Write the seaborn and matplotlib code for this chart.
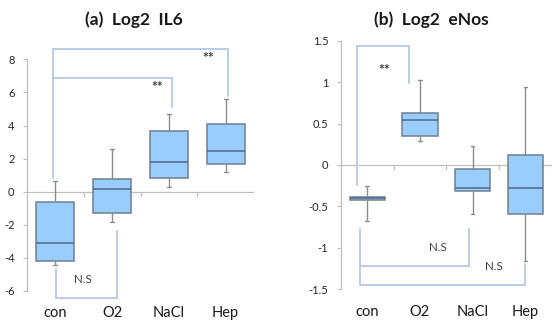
import numpy as np
import pandas as pd
import matplotlib
matplotlib.use("Agg")
import matplotlib.pyplot as plt
import seaborn as sns

# ---------------- data ----------------
cats = ["con", "O2", "NaCl", "Hep"]

il6_min = [-4.40, -1.83, 0.28, 1.19]
il6_q1 = [-4.17, -1.31, 0.81, 1.69]
il6_med = [-3.10, 0.16, 1.77, 2.44]
il6_q3 = [-0.65, 0.79, 3.69, 4.11]
il6_max = [0.66, 2.60, 4.69, 5.60]

enos_min = [-0.675, 0.294, -0.586, -1.153]
enos_q1 = [-0.417, 0.355, -0.309, -0.591]
enos_med = [-0.400, 0.548, -0.277, -0.281]
enos_q3 = [-0.386, 0.632, -0.048, 0.121]
enos_max = [-0.253, 1.030, 0.230, 0.940]

il6_ticks = [-6, -4, -2, 0, 2, 4, 6, 8]
enos_ticks = [-1.5, -1, -0.5, 0, 0.5, 1, 1.5]
enos_ticklabels = ["-1.5", "-1", "-0.5", "0", "0.5", "1", "1.5"]

# significance brackets (x in category units, y in data units)
il6_brackets = [
    ([-0.04, -0.04, 3.04, 3.04], [0.85, 8.62, 8.62, 5.76]),
    ([-0.04, 2.06, 2.06], [6.87, 6.87, 5.12]),
    ([0.01, 0.01, 1.08, 1.08], [-4.7, -6.4, -6.4, -2.35]),
]
il6_labels = [(1.80, 6.35, "**"), (2.70, 8.1, "**"), (0.48, -5.3, "N.S")]

enos_brackets = [
    ([-0.20, -0.20, 0.79, 0.79], [-0.237, 1.432, 1.432, 0.99]),
    ([-0.13, -0.13, 1.93, 1.93], [-0.77, -1.214, -1.214, -0.77]),
    ([-0.13, -0.13, 2.99, 2.99], [-1.214, -1.443, -1.443, -1.19]),
]
enos_labels = [(0.33, 1.15, "**"), (1.34, -0.99, "N.S"), (2.40, -1.23, "N.S")]


def long_df(mins, q1s, meds, q3s, maxs):
    rows = []
    for c, a, b, m, d, e in zip(cats, mins, q1s, meds, q3s, maxs):
        for v in (a, b, m, d, e):
            rows.append({"group": c, "value": v})
    return pd.DataFrame(rows)


df_il6 = long_df(il6_min, il6_q1, il6_med, il6_q3, il6_max)
df_enos = long_df(enos_min, enos_q1, enos_med, enos_q3, enos_max)

# ---------------- style ----------------
sns.set_style("white")
plt.rcParams["font.family"] = ["Lato", "DejaVu Sans"]

FILL = "#99CCFF"
EDGE = "#6F8092"
MED = "#4F6A86"
WHISK = "#8C8C8C"
BRK = "#B4C8E6"
AXC = "#BFBFBF"
TXT = "#404040"

fig = plt.figure(figsize=(5.6, 3.22), dpi=100)
axL = fig.add_axes([0.0482, 0.0963, 0.4054, 0.7195])
axR = fig.add_axes([0.6086, 0.1016, 0.3766, 0.772])


def draw(ax, df, ylim, ticks, ticklabels, brackets, labels):
    sns.boxplot(data=df, x="group", y="value", order=cats, ax=ax,
                color=FILL, saturation=1, width=0.67, whis=(0, 100),
                linewidth=1.0,
                boxprops=dict(edgecolor=EDGE, linewidth=1.1),
                medianprops=dict(color=MED, linewidth=1.1),
                whiskerprops=dict(color=WHISK, linewidth=1.0),
                capprops=dict(color=WHISK, linewidth=1.0),
                showfliers=False)
    # shrink caps to small ticks
    for cont in ax.containers:
        if hasattr(cont, "caps"):
            for cap in cont.caps:
                xd = np.asarray(cap.get_xdata(), dtype=float)
                c = xd.mean()
                cap.set_xdata([c - 0.035, c + 0.035])
    ax.set_xlim(-0.5, len(cats) - 0.5)
    ax.set_ylim(*ylim)
    ax.set_yticks(ticks)
    ax.set_yticklabels(ticklabels, fontsize=8, color="#262626")
    ax.set_xlabel("")
    ax.set_ylabel("")
    for s in ["top", "right", "bottom"]:
        ax.spines[s].set_visible(False)
    ax.spines["left"].set_color(AXC)
    ax.spines["left"].set_linewidth(0.9)
    ax.tick_params(axis="y", direction="out", length=3, width=0.8,
                   color=AXC, pad=6, left=True)
    ax.tick_params(axis="x", length=0, pad=11, labelsize=10.5,
                   labelcolor="#1a1a1a")
    # category axis crossing at zero
    ax.axhline(0, color=AXC, linewidth=0.9, zorder=0.5)
    yr = ylim[1] - ylim[0]
    tl = yr * 0.017
    for b in np.arange(len(cats)) + 0.5:
        ax.plot([b, b], [0, -tl], color=AXC, linewidth=0.9, zorder=0.5)
    for xs, ys in brackets:
        ax.plot(xs, ys, color=BRK, linewidth=1.3, clip_on=False, zorder=3,
                solid_joinstyle="miter")
    for x, y, t in labels:
        if t == "**":
            ax.text(x, y, t, ha="center", va="center", fontsize=10,
                    fontweight="bold", color=TXT, clip_on=False)
        else:
            ax.text(x, y, t, ha="center", va="center", fontsize=8.3,
                    color=TXT, clip_on=False)


draw(axL, df_il6, (-6, 8), il6_ticks, [str(t) for t in il6_ticks],
     il6_brackets, il6_labels)
draw(axR, df_enos, (-1.5, 1.5), enos_ticks, enos_ticklabels,
     enos_brackets, enos_labels)

fig.text(134 / 560, 1 - 20 / 322, "(a)  Log2  IL6", ha="center", va="center",
         fontsize=12.5, fontweight="bold", color="#1a1a1a")
fig.text(431 / 560, 1 - 20 / 322, "(b)  Log2  eNos", ha="center", va="center",
         fontsize=12.5, fontweight="bold", color="#1a1a1a")

fig.savefig("out.png", dpi=100)
